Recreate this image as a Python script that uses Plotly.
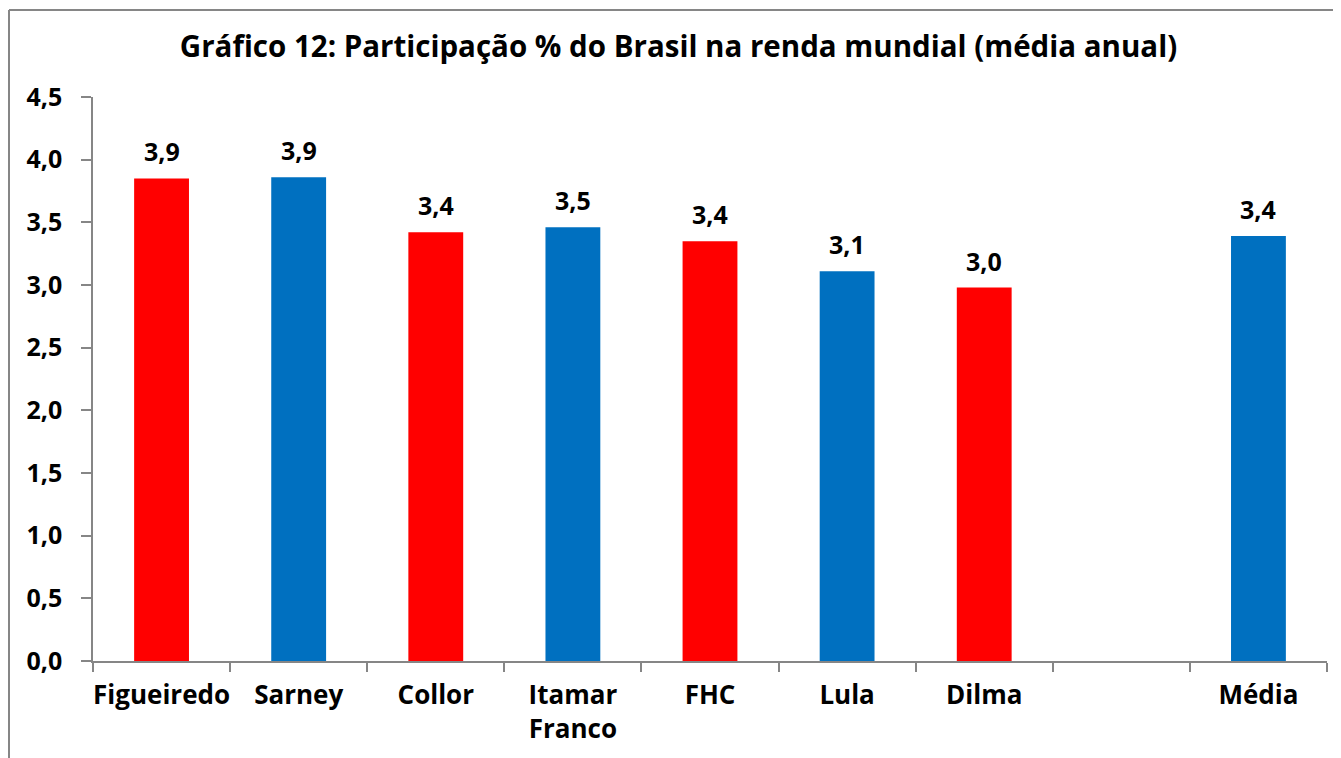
import plotly.graph_objects as go

categories = ["Figueiredo", "Sarney", "Collor", "Itamar<br>Franco", "FHC", "Lula", "Dilma", " ", "Média"]
values = [3.85, 3.86, 3.42, 3.46, 3.35, 3.11, 2.98, None, 3.39]
bar_colors = ["#FF0000", "#0070C0", "#FF0000", "#0070C0", "#FF0000", "#0070C0", "#FF0000", "#FFFFFF", "#0070C0"]
y_ticks = [0, 0.5, 1.0, 1.5, 2.0, 2.5, 3.0, 3.5, 4.0, 4.5]
title = "Gráfico 12: Participação % do Brasil na renda mundial (média anual)"

FONT = "Open Sans"
OFF = 8  # page body margin
W, H = 1341, 758
L, R, T, B = 93 - OFF, 22, 97 - OFF, 105
pw, ph = W - L - R, H - T - B

fig = go.Figure(go.Bar(
    x=categories, y=values,
    marker=dict(color=bar_colors, line=dict(width=0)),
    width=0.4,
    hoverinfo="x+y",
))

# value labels above bars (decimal comma)
for c, v in zip(categories, values):
    if v is None:
        continue
    fig.add_annotation(x=c, y=v, text=f"{v:.1f}".replace(".", ","), showarrow=False,
                       yanchor="bottom", yshift=8,
                       font=dict(family=FONT, size=25, color="black", weight="bold"))

fig.update_layout(
    width=W, height=H,
    margin=dict(l=L, r=R, t=T, b=B, autoexpand=False),
    paper_bgcolor="white", plot_bgcolor="white",
    separators=",.",
    showlegend=False,
    title=dict(text=title, x=0.5, xref="container", y=1 - (47 - OFF) / H, yanchor="middle",
               automargin=False,
               font=dict(family=FONT, size=29.5, color="black", weight="bold")),
    bargap=0.6,
)
fig.update_yaxes(range=[0, 4.5], tickvals=y_ticks, tickformat=".1f", automargin=False,
                 showgrid=False, zeroline=False, showline=True, linecolor="#868686", linewidth=1.5,
                 ticks="outside", ticklen=10, tickcolor="#868686", tickwidth=1.5,
                 ticklabelstandoff=14,
                 tickfont=dict(family=FONT, size=25, color="black", weight="bold"))
fig.update_xaxes(type="category", tickson="boundaries", showgrid=False, automargin=False,
                 tickangle=0, ticklabelstandoff=10,
                 showline=True, linecolor="#868686", linewidth=1.5,
                 ticks="outside", ticklen=9, tickcolor="#868686", tickwidth=1.5,
                 tickfont=dict(family=FONT, size=26, color="black", weight="bold"))

# outer chart frame (top and left edges visible)
fx0 = (9 - OFF - L) / pw
fy1 = (H - B - (10 - OFF)) / ph
fig.add_shape(type="line", xref="paper", yref="paper",
              x0=fx0, x1=(W + 20 - L) / pw, y0=fy1, y1=fy1,
              line=dict(color="#868686", width=2), layer="below")
fig.add_shape(type="line", xref="paper", yref="paper",
              x0=fx0, x1=fx0, y0=fy1, y1=(H - B - (H + 20)) / ph,
              line=dict(color="#868686", width=2), layer="below")

fig.write_html("out.html")
